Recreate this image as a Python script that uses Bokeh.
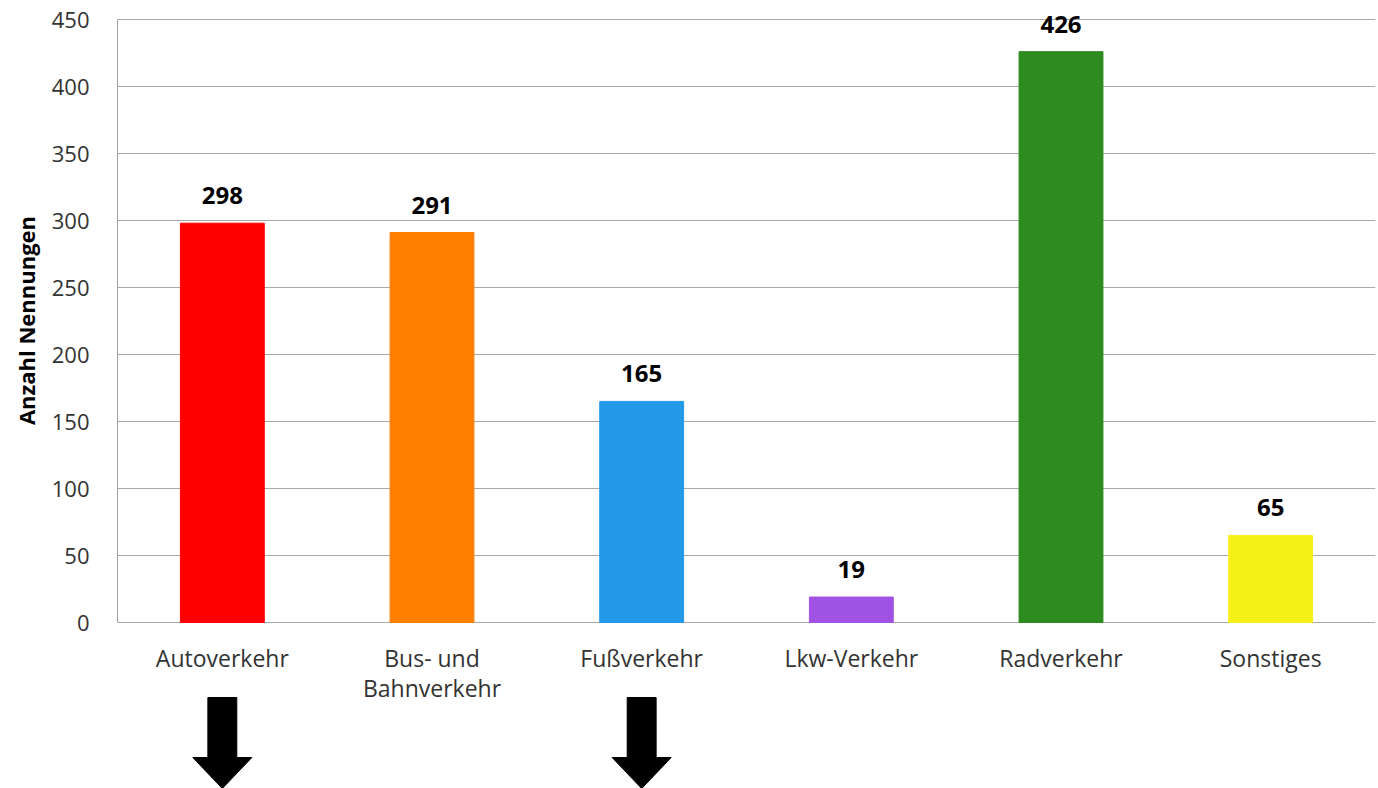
from bokeh.plotting import figure
from bokeh.models import ColumnDataSource, Range1d, FactorRange, LabelSet
from bokeh.layouts import column
from bokeh.core.properties import value
from bokeh.embed import file_html
from bokeh.resources import INLINE

categories = ["Autoverkehr", "Bus- und\nBahnverkehr", "Fußverkehr", "Lkw-Verkehr", "Radverkehr", "Sonstiges"]
values = [298, 291, 165, 19, 426, 65]
colors = ["#ff0000", "#ff8000", "#2499e8", "#a052e3", "#2e8b1f", "#f5f016"]
arrow_categories = ["Autoverkehr", "Fußverkehr"]
y_ticks = [0, 50, 100, 150, 200, 250, 300, 350, 400, 450]

FONT = "Open Sans"
W, H = 1378, 788
TOP_PX, ZERO_PX, MAIN_H = 19, 622, 640
ymin, ymax = y_ticks[0], y_ticks[-1]
ppu = (ZERO_PX - TOP_PX) / (ymax - ymin)

src = ColumnDataSource(dict(cat=categories, val=values, color=colors,
                            lbl=[str(v) for v in values]))

p = figure(x_range=FactorRange(*categories, range_padding=0),
           y_range=Range1d(ymin - (MAIN_H - ZERO_PX) / ppu, ymax + TOP_PX / ppu),
           width=W, height=MAIN_H, output_backend="svg", toolbar_location=None,
           min_border_left=117, min_border_right=3, min_border_top=0, min_border_bottom=0)
p.outline_line_color = None
p.xaxis.visible = False
p.vbar(x="cat", top="val", width=0.4, color="color", source=src)

labels = LabelSet(x="cat", y="val", text="lbl", source=src, text_align="center",
                  text_baseline="alphabetic", y_offset=19, text_font=value(FONT),
                  text_font_style="bold", text_font_size="24px", text_color="#000000")
p.add_layout(labels)

p.yaxis.ticker = y_ticks
p.yaxis.bounds = (ymin, ymax)
p.yaxis.axis_label = "Anzahl Nennungen"
p.yaxis.axis_label_text_font = FONT
p.yaxis.axis_label_text_font_style = "bold"
p.yaxis.axis_label_text_font_size = "22px"
p.yaxis.axis_label_text_color = "#000000"
p.yaxis.axis_label_standoff = 8
p.yaxis.major_label_text_font = FONT
p.yaxis.major_label_text_font_size = "22px"
p.yaxis.major_label_text_color = "#333333"
p.yaxis.major_label_standoff = 22
p.yaxis.major_tick_line_color = None
p.yaxis.minor_tick_line_color = None
p.yaxis.axis_line_color = "#a0a0a0"

p.xgrid.grid_line_color = None
p.ygrid.grid_line_color = "#a8a8a8"

# lower panel: category labels and arrows
n = len(categories)
LOW_H = H - MAIN_H
a = figure(x_range=Range1d(0, n), y_range=Range1d(0, LOW_H),
           width=W, height=LOW_H, output_backend="svg", toolbar_location=None,
           min_border_left=117, min_border_right=3, min_border_top=0, min_border_bottom=0)
a.outline_line_color = None
a.axis.visible = False
a.grid.visible = False

tx, ty, tt = [], [], []
for i, c in enumerate(categories):
    for j, line in enumerate(c.split("\n")):
        tx.append(i + 0.5)
        ty.append(131 - 30 * j)
        tt.append(line)
a.text(x=tx, y=ty, text=tt, text_align="center", text_baseline="alphabetic",
       text_font=value(FONT), text_font_size="23px", text_color="#333333")

xs, ys = [], []
first_lines = [s.split("\n")[0] for s in categories]
for c in arrow_categories:
    cx = first_lines.index(c) + 0.5
    sw, hw = 0.069, 0.141
    xs.append([cx - sw, cx + sw, cx + sw, cx + hw, cx, cx - hw, cx - sw])
    ys.append([91, 91, 31, 31, 0, 31, 31])
a.patches(xs, ys, color="#000000")

layout = column(p, a, spacing=0)
open("out.html", "w").write(file_html(layout, INLINE))
